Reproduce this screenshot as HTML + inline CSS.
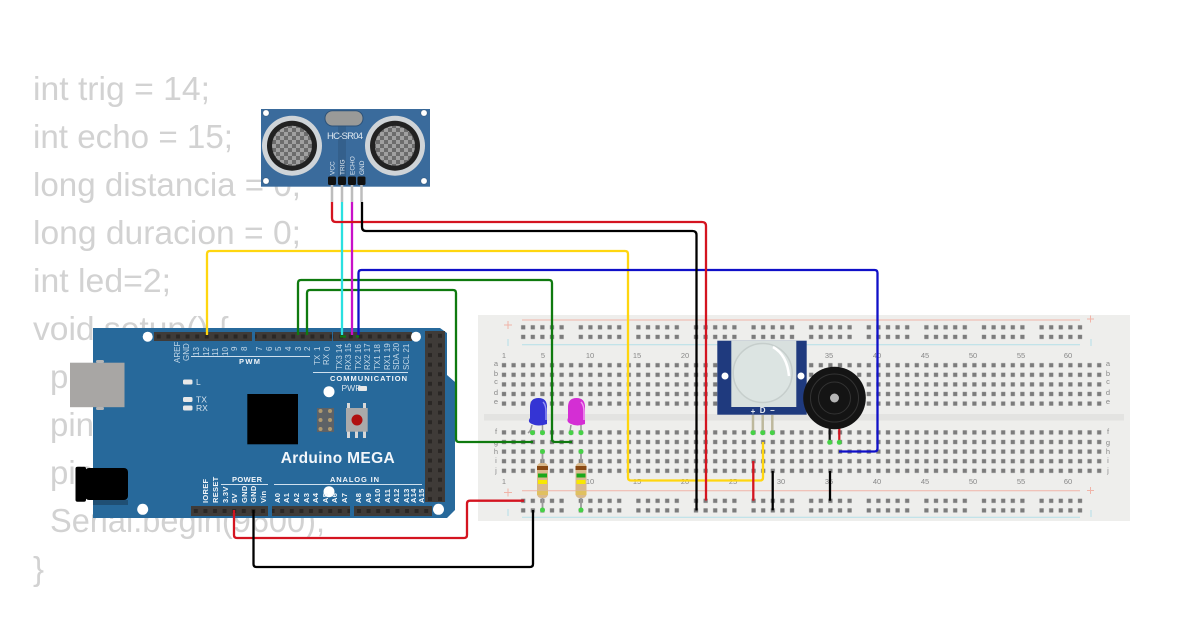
<!DOCTYPE html>
<html><head><meta charset="utf-8"><style>html,body{margin:0;padding:0;background:#fff}svg{display:block}</style></head><body>
<svg xmlns="http://www.w3.org/2000/svg" width="1200" height="630" viewBox="0 0 1200 630" font-family="'Liberation Sans',sans-serif">
<defs>
<pattern id="hm" patternUnits="userSpaceOnUse" x="499.2" y="360.4" width="9.6" height="9.6"><rect x="2.7" y="2.7" width="4.2" height="4.2" fill="#7c7c7c"/></pattern>
<pattern id="ht" patternUnits="userSpaceOnUse" x="499.2" y="322.5" width="9.6" height="9.6"><rect x="2.7" y="2.7" width="4.2" height="4.2" fill="#7c7c7c"/></pattern>
<pattern id="hb" patternUnits="userSpaceOnUse" x="499.2" y="496" width="9.6" height="9.6"><rect x="2.7" y="2.7" width="4.2" height="4.2" fill="#7c7c7c"/></pattern>
<pattern id="pinT" patternUnits="userSpaceOnUse" x="154" y="332" width="9.6" height="9"><rect width="9.6" height="9" fill="#3f3b38"/><rect x="2.8" y="2.5" width="4" height="4" fill="#2a2725"/></pattern>
<pattern id="pinB" patternUnits="userSpaceOnUse" x="191" y="506" width="9.6" height="10"><rect width="9.6" height="10" fill="#3f3b38"/><rect x="2.8" y="3" width="4" height="4" fill="#2a2725"/></pattern>
<pattern id="pinR" patternUnits="userSpaceOnUse" x="425" y="331" width="10" height="9.6"><rect width="10" height="9.6" fill="#3f3b38"/><rect x="3" y="2.8" width="4" height="4" fill="#2a2725"/></pattern>
<pattern id="mesh" patternUnits="userSpaceOnUse" x="0" y="0" width="8" height="8"><rect width="8" height="8" fill="#6c6c6c"/><rect width="4" height="4" fill="#a0a0a0"/><rect x="4" y="4" width="4" height="4" fill="#a0a0a0"/></pattern>
</defs>

<!-- background code -->
<g font-size="33" fill="#d2d2d2">
<text x="33" y="100" textLength="177" lengthAdjust="spacingAndGlyphs">int trig = 14;</text>
<text x="33" y="148" textLength="200" lengthAdjust="spacingAndGlyphs">int echo = 15;</text>
<text x="33" y="196" textLength="268" lengthAdjust="spacingAndGlyphs">long distancia = 0;</text>
<text x="33" y="244" textLength="268" lengthAdjust="spacingAndGlyphs">long duracion = 0;</text>
<text x="33" y="292" textLength="138" lengthAdjust="spacingAndGlyphs">int led=2;</text>
<text x="33" y="340" textLength="196" lengthAdjust="spacingAndGlyphs">void setup() {</text>
<text x="50" y="388">pinMode(trig, OUTPUT);</text>
<text x="50" y="436">pinMode(echo, INPUT);</text>
<text x="50" y="484">pinMode(led, OUTPUT);</text>
<text x="50" y="532" textLength="275" lengthAdjust="spacingAndGlyphs">Serial.begin(9600);</text>
<text x="33" y="580">}</text>
</g>

<!-- breadboard -->
<rect x="478" y="315" width="652" height="206" fill="#eeeeec"/>
<rect x="484" y="414" width="640" height="6.5" fill="#e3e3e1"/>
<g stroke-width="1" fill="none">
<path d="M522 320H1080M522 490.7H1080" stroke="#f0b4a8"/>
<path d="M522 344.7H1080M522 517.3H1080" stroke="#b4dfe8"/>
</g>
<rect x="499.2" y="360.4" width="604.8" height="48" fill="url(#hm)"/>
<rect x="499.2" y="427.6" width="604.8" height="48" fill="url(#hm)"/>
<g fill="url(#ht)">
<rect x="518.4" y="322.5" width="48" height="19.2"/><rect x="576" y="322.5" width="48" height="19.2"/><rect x="633.6" y="322.5" width="48" height="19.2"/><rect x="691.2" y="322.5" width="48" height="19.2"/><rect x="748.8" y="322.5" width="48" height="19.2"/><rect x="806.4" y="322.5" width="48" height="19.2"/><rect x="864" y="322.5" width="48" height="19.2"/><rect x="921.6" y="322.5" width="48" height="19.2"/><rect x="979.2" y="322.5" width="48" height="19.2"/><rect x="1036.8" y="322.5" width="48" height="19.2"/>
</g>
<g fill="url(#hb)">
<rect x="518.4" y="496" width="48" height="19.2"/><rect x="576" y="496" width="48" height="19.2"/><rect x="633.6" y="496" width="48" height="19.2"/><rect x="691.2" y="496" width="48" height="19.2"/><rect x="748.8" y="496" width="48" height="19.2"/><rect x="806.4" y="496" width="48" height="19.2"/><rect x="864" y="496" width="48" height="19.2"/><rect x="921.6" y="496" width="48" height="19.2"/><rect x="979.2" y="496" width="48" height="19.2"/><rect x="1036.8" y="496" width="48" height="19.2"/>
</g>
<g font-size="7.5" fill="#888" text-anchor="middle">
<text x="504" y="358">1</text><text x="543" y="358">5</text><text x="590" y="358">10</text><text x="637" y="358">15</text><text x="685" y="358">20</text><text x="733" y="358">25</text><text x="781" y="358">30</text><text x="829" y="358">35</text><text x="877" y="358">40</text><text x="925" y="358">45</text><text x="973" y="358">50</text><text x="1021" y="358">55</text><text x="1068" y="358">60</text>
<text x="504" y="484">1</text><text x="590" y="484">10</text><text x="637" y="484">15</text><text x="685" y="484">20</text><text x="733" y="484">25</text><text x="781" y="484">30</text><text x="829" y="484">35</text><text x="877" y="484">40</text><text x="925" y="484">45</text><text x="973" y="484">50</text><text x="1021" y="484">55</text><text x="1068" y="484">60</text>
<text x="496" y="366">a</text><text x="496" y="376">b</text><text x="496" y="384">c</text><text x="496" y="395">d</text><text x="496" y="404">e</text><text x="496" y="434">f</text><text x="496" y="445">g</text><text x="496" y="454">h</text><text x="496" y="463">i</text><text x="496" y="473">j</text>
<text x="1108" y="366">a</text><text x="1108" y="376">b</text><text x="1108" y="384">c</text><text x="1108" y="395">d</text><text x="1108" y="404">e</text><text x="1108" y="434">f</text><text x="1108" y="445">g</text><text x="1108" y="454">h</text><text x="1108" y="463">i</text><text x="1108" y="473">j</text>
</g>
<g stroke-width="1" fill="none">
<path d="M504 325h8M508 321v8M1087 319h7M1090.500 315.500v7M504 492.500h8M508 488.500v8M1087 490.500h7M1090.500 487v7" stroke="#f0b4a8"/>
<path d="M508 339v7M1091 339v7M508 509v7M1091 510v7" stroke="#b4dfe8"/>
</g>

<!-- Arduino -->
<path d="M93 328H440L447 333V375L455 382V510L447 518H93Z" fill="#27699b"/>
<rect x="70" y="362.700" width="54.500" height="44.500" fill="#a8a6a4"/>
<rect x="96" y="360" width="8" height="3" rx="1.500" fill="#b5b5b5"/><rect x="96" y="407" width="8" height="3" rx="1.500" fill="#b5b5b5"/>
<rect x="93" y="500" width="35" height="5" fill="#1f4f74"/>
<rect x="75.500" y="466.700" width="10.500" height="35" rx="2" fill="#000"/>
<rect x="85" y="468" width="43" height="32" rx="4" fill="#000"/>
<rect x="154" y="332" width="98" height="9" fill="url(#pinT)"/>
<rect x="255" y="332" width="77" height="9" fill="url(#pinT)"/>
<rect x="333" y="332" width="79" height="9" fill="url(#pinT)"/>
<rect x="425" y="331" width="20" height="171" fill="url(#pinR)"/>
<rect x="191" y="506" width="77" height="10" fill="url(#pinB)"/>
<rect x="272" y="506" width="78" height="10" fill="url(#pinB)"/>
<rect x="354" y="506" width="78" height="10" fill="url(#pinB)"/>
<g fill="#fff">
<circle cx="147.700" cy="336.700" r="5"/><circle cx="142.700" cy="509.300" r="5.500"/><circle cx="416" cy="336.700" r="5"/><circle cx="438.500" cy="509.300" r="5.500"/><circle cx="329" cy="391.700" r="5.500"/><circle cx="329" cy="491.700" r="5.500"/>
</g>
<rect x="247.300" y="394" width="50.700" height="50.300" fill="#000"/>
<g fill="#e8e8e8"><rect x="183" y="379.500" width="9.500" height="5" rx="1.500"/><rect x="183" y="397" width="9.500" height="5" rx="1.500"/><rect x="183" y="405.500" width="9.500" height="5" rx="1.500"/><rect x="358" y="386" width="9" height="5" rx="1"/></g>
<g fill="#d8e4ee" font-size="8.500"><text x="196" y="385">L</text><text x="196" y="402.500">TX</text><text x="196" y="411">RX</text><text x="341.500" y="391">PWR</text></g>
<!-- ICSP + reset -->
<rect x="317" y="408" width="17" height="24" fill="#5e6266"/>
<g fill="#b09a70"><circle cx="320.500" cy="411" r="2"/><circle cx="330" cy="411" r="2"/><circle cx="320.500" cy="420" r="2"/><circle cx="330" cy="420" r="2"/><circle cx="320.500" cy="429" r="2"/><circle cx="330" cy="429" r="2"/></g>
<g fill="#d8d8d8"><rect x="347" y="403" width="3" height="6"/><rect x="363" y="403" width="3" height="6"/><rect x="347" y="431" width="3" height="7"/><rect x="355" y="431" width="3" height="7"/><rect x="363" y="431" width="3" height="7"/></g>
<rect x="346" y="408" width="21.700" height="23.700" fill="#aaa"/>
<circle cx="357" cy="420" r="5.500" fill="#b01010"/>
<text x="280.700" y="463" font-size="15.500" font-weight="bold" fill="#f2f6fa" textLength="114" lengthAdjust="spacing">Arduino MEGA</text>
<g stroke="#cfe0ee" stroke-width="1" fill="none"><path d="M191 356.500H310M313 372.500H408M221 484.500H268M274 484.500H422"/></g>
<g fill="#f2f6fa" font-size="7.500" font-weight="bold">
<text x="239" y="364" textLength="21">PWM</text>
<text x="330" y="381" textLength="77">COMMUNICATION</text>
<text x="232" y="482" textLength="30">POWER</text>
<text x="330" y="482" textLength="49">ANALOG IN</text>
</g>
<!-- top pin labels -->
<g fill="#c4d8e8" font-size="8">
<text transform="translate(180,345) rotate(-90)" text-anchor="start" dx="-18">AREF</text>
<text transform="translate(189,345) rotate(-90)" text-anchor="start" dx="-16">GND</text>
<text transform="translate(199,346) rotate(-90)" text-anchor="start" dx="-10">13</text>
<text transform="translate(209,346) rotate(-90)" text-anchor="start" dx="-10">12</text>
<text transform="translate(218,346) rotate(-90)" text-anchor="start" dx="-10">11</text>
<text transform="translate(228,346) rotate(-90)" text-anchor="start" dx="-10">10</text>
<text transform="translate(237,346) rotate(-90)" text-anchor="start" dx="-5">9</text>
<text transform="translate(247,346) rotate(-90)" text-anchor="start" dx="-5">8</text>
<text transform="translate(262,346) rotate(-90)" text-anchor="start" dx="-5">7</text>
<text transform="translate(272,346) rotate(-90)" text-anchor="start" dx="-5">6</text>
<text transform="translate(281,346) rotate(-90)" text-anchor="start" dx="-5">5</text>
<text transform="translate(291,346) rotate(-90)" text-anchor="start" dx="-5">4</text>
<text transform="translate(301,346) rotate(-90)" text-anchor="start" dx="-5">3</text>
<text transform="translate(310,346) rotate(-90)" text-anchor="start" dx="-5">2</text>
<text transform="translate(320,346) rotate(-90)" text-anchor="start" dx="-5">1</text>
<text transform="translate(330,346) rotate(-90)" text-anchor="start" dx="-5">0</text>
<text transform="translate(320,365) rotate(-90)" text-anchor="start">TX</text>
<text transform="translate(329,365) rotate(-90)" text-anchor="start">RX</text>
<text transform="translate(342,370) rotate(-90)" text-anchor="start">TX3 14</text>
<text transform="translate(351,370) rotate(-90)" text-anchor="start">RX3 15</text>
<text transform="translate(361,370) rotate(-90)" text-anchor="start">TX2 16</text>
<text transform="translate(370,370) rotate(-90)" text-anchor="start">RX2 17</text>
<text transform="translate(380,370) rotate(-90)" text-anchor="start">TX1 18</text>
<text transform="translate(390,370) rotate(-90)" text-anchor="start">RX1 19</text>
<text transform="translate(399,370) rotate(-90)" text-anchor="start">SDA 20</text>
<text transform="translate(409,370) rotate(-90)" text-anchor="start">SCL 21</text>
</g>
<!-- bottom pin labels -->
<g fill="#f2f6fa" font-size="7.500" font-weight="bold" letter-spacing=".3">
<text transform="translate(208,503) rotate(-90)">IOREF</text>
<text transform="translate(218,503) rotate(-90)">RESET</text>
<text transform="translate(228,503) rotate(-90)">3.3V</text>
<text transform="translate(237,503) rotate(-90)">5V</text>
<text transform="translate(247,503) rotate(-90)">GND</text>
<text transform="translate(256,503) rotate(-90)">GND</text>
<text transform="translate(266,503) rotate(-90)">Vin</text>
<text transform="translate(280,503) rotate(-90)">A0</text>
<text transform="translate(289,503) rotate(-90)">A1</text>
<text transform="translate(299,503) rotate(-90)">A2</text>
<text transform="translate(309,503) rotate(-90)">A3</text>
<text transform="translate(318,503) rotate(-90)">A4</text>
<text transform="translate(328,503) rotate(-90)">A5</text>
<text transform="translate(337,503) rotate(-90)">A6</text>
<text transform="translate(347,503) rotate(-90)">A7</text>
<text transform="translate(361,503) rotate(-90)">A8</text>
<text transform="translate(371,503) rotate(-90)">A9</text>
<text transform="translate(380,503) rotate(-90)">A10</text>
<text transform="translate(390,503) rotate(-90)">A11</text>
<text transform="translate(399,503) rotate(-90)">A12</text>
<text transform="translate(409,503) rotate(-90)">A13</text>
<text transform="translate(416,503) rotate(-90)">A14</text>
<text transform="translate(424,503) rotate(-90)">A15</text>
</g>

<!-- HC-SR04 -->
<rect x="261" y="109" width="169" height="77.700" fill="#3a6b9c"/>
<rect x="338" y="125" width="8" height="52" fill="#34608c"/>
<rect x="325" y="110.700" width="38" height="15.300" rx="7.500" fill="#9a9a98" stroke="#2d5278" stroke-width="1"/>
<g fill="#fff" stroke="#22466a" stroke-width=".5"><circle cx="266" cy="113" r="3.200"/><circle cx="424" cy="113" r="3.200"/><circle cx="266" cy="181" r="3.200"/><circle cx="424" cy="181" r="3.200"/></g>
<circle cx="292" cy="145.700" r="30" fill="#cfd4d8"/><circle cx="292" cy="145.700" r="25" fill="#222"/><circle cx="292" cy="145.700" r="20" fill="url(#mesh)"/>
<circle cx="395" cy="145.700" r="30" fill="#cfd4d8"/><circle cx="395" cy="145.700" r="25" fill="#222"/><circle cx="395" cy="145.700" r="20" fill="url(#mesh)"/>
<text x="327" y="139" font-size="9.500" fill="#dfe8f0" textLength="36" lengthAdjust="spacing">HC-SR04</text>
<g fill="#dfe8f0" font-size="6.500">
<text transform="translate(334.500,175) rotate(-90)">VCC</text>
<text transform="translate(344.500,175) rotate(-90)">TRIG</text>
<text transform="translate(354.500,175) rotate(-90)">ECHO</text>
<text transform="translate(364,175) rotate(-90)">GND</text>
</g>
<g fill="#111"><rect x="328" y="176.500" width="8" height="8.500" rx="1.500"/><rect x="338" y="176.500" width="8" height="8.500" rx="1.500"/><rect x="348" y="176.500" width="8" height="8.500" rx="1.500"/><rect x="357.500" y="176.500" width="8" height="8.500" rx="1.500"/></g>
<g stroke="#bdbdbd" stroke-width="2.500"><path d="M332 185V202M342 185V202M352 185V202M361.500 185V202"/></g>

<!-- Wires -->
<g fill="none" stroke-width="2.300" stroke-linejoin="round">
<path d="M340 336.500H346M356 336.500H359" stroke="#0f7a0f"/>
<path d="M207 335V254Q207 251 210 251H625Q628 251 628 254V477.500Q628 480.500 631 480.500H760Q763 480.500 763 477.500V442" stroke="#ffd60f"/>
<path d="M298 335V283Q298 280 301 280H549Q552 280 552 283V439Q552 442 555 442H572" stroke="#0f7a0f"/>
<path d="M307 335V293Q307 290 310 290H453Q456 290 456 293V439Q456 442 459 442H533" stroke="#0f7a0f"/>
<path d="M342 202V335" stroke="#2ae0e0"/>
<path d="M352 202V335" stroke="#c810c8"/>
<path d="M358.500 335V273Q358.500 270 361.500 270H874.500Q877.500 270 877.500 273V448.500Q877.500 451.500 874.500 451.500H839" stroke="#1010c8"/>
<path d="M332 202V218Q332 222 336 222H702Q706 222 706 226V500.500" stroke="#d41420"/>
<path d="M362 202V227Q362 231 366 231H692.500Q696.500 231 696.500 235V510.500" stroke="#000"/>
<path d="M234 510V535Q234 538 237 538H464Q467 538 467 535V503.700Q467 500.700 470 500.700H524" stroke="#d41420"/>
<path d="M253.500 510V564Q253.500 567 256.500 567H530Q533 567 533 564V510" stroke="#000"/>
<path d="M753.300 461V500.700" stroke="#d41420"/>
<path d="M772.700 471V510.300" stroke="#000"/>
<path d="M830 471V500.700" stroke="#000"/>
</g>

<!-- LEDs -->
<g>
<path d="M532 425Q531 431 528 433" stroke="#999" stroke-width="1.500" fill="none"/>
<path d="M542.500 425V433" stroke="#999" stroke-width="1.500" fill="none"/>
<path d="M530 418V407Q530 398 538.500 398Q547 398 547 407V424Q538 427 532 424Q527 422 530 418Z" fill="#3434d4"/>
<path d="M543 402Q546 405 546 412V420" stroke="#8f8ff4" stroke-width="1.500" fill="none"/>
<path d="M571 425Q570 431 570 433" stroke="#999" stroke-width="1.500" fill="none"/>
<path d="M581 425V433" stroke="#999" stroke-width="1.500" fill="none"/>
<path d="M568 418V407Q568 398 576.500 398Q585 398 585 407V424Q577 427 571 424Q566 422 568 418Z" fill="#d42ed4"/>
<path d="M581 402Q584 405 584 412V420" stroke="#f09af0" stroke-width="1.500" fill="none"/>
</g>
<g fill="#46d046"><circle cx="532.500" cy="432.700" r="2.500"/><circle cx="542.500" cy="432.700" r="2.500"/><circle cx="571" cy="432.700" r="2.500"/><circle cx="581" cy="432.700" r="2.500"/></g>

<!-- Resistors -->
<g stroke="#9a9a9a" stroke-width="1.800"><path d="M542.500 451.500V510M581 451.500V510"/></g>
<g>
<rect x="537" y="463" width="11" height="35" rx="4" fill="#d9b98c"/>
<rect x="537" y="466" width="11" height="4" fill="#8a4a14"/><rect x="538" y="473.500" width="9" height="4" fill="#1aa81a"/><rect x="538" y="480" width="9" height="4" fill="#f8e800"/><rect x="537" y="491" width="11" height="4" fill="#e0c060"/>
<rect x="575.500" y="463" width="11" height="35" rx="4" fill="#d9b98c"/>
<rect x="575.500" y="466" width="11" height="4" fill="#8a4a14"/><rect x="576.500" y="473.500" width="9" height="4" fill="#1aa81a"/><rect x="576.500" y="480" width="9" height="4" fill="#f8e800"/><rect x="575.500" y="491" width="11" height="4" fill="#e0c060"/>
</g>
<g fill="#46d046"><circle cx="542.500" cy="451.500" r="2.500"/><circle cx="581" cy="451.500" r="2.500"/><circle cx="542.500" cy="510" r="2.500"/><circle cx="581" cy="510" r="2.500"/></g>

<!-- PIR -->
<rect x="717.300" y="340.700" width="89.400" height="74" fill="#1f3a7e"/>
<rect x="731.300" y="340.700" width="65" height="66.300" fill="#d8e0de"/>
<circle cx="762.700" cy="373" r="29.500" fill="#dce4e2" stroke="#c6cecc" stroke-width="1.500"/>
<path d="M773 347Q787 355 789 376" stroke="#fff" stroke-width="2.500" fill="none"/>
<g fill="#fff"><circle cx="725" cy="376" r="3.500"/><circle cx="801" cy="376" r="3.500"/></g>
<g fill="#e8ecf4" font-size="8" font-weight="bold" text-anchor="middle"><text x="753" y="414">+</text><text x="762.700" y="413">D</text><text x="772.300" y="413">−</text></g>
<g stroke="#bdb89c" stroke-width="2.500"><path d="M753 415V432M762.700 415V432M772.300 415V432"/></g>
<g fill="#46d046"><circle cx="753" cy="432.700" r="2.500"/><circle cx="762.700" cy="432.700" r="2.500"/><circle cx="772.300" cy="432.700" r="2.500"/></g>

<!-- Buzzer -->
<path d="M829.700 425V442" stroke="#111" stroke-width="2.200"/><path d="M839.300 425V442" stroke="#d41420" stroke-width="2.200"/>
<circle cx="834.500" cy="398" r="31.300" fill="#141414"/>
<g fill="none" stroke="#333" stroke-width="1"><circle cx="834.500" cy="398" r="24"/><circle cx="834.500" cy="398" r="16"/></g>
<circle cx="834.500" cy="398" r="4.500" fill="#b5b5b5"/>
<g fill="#46d046"><circle cx="829.700" cy="442.300" r="2.500"/><circle cx="839.300" cy="442.300" r="2.500"/></g>
</svg>
</body></html>
